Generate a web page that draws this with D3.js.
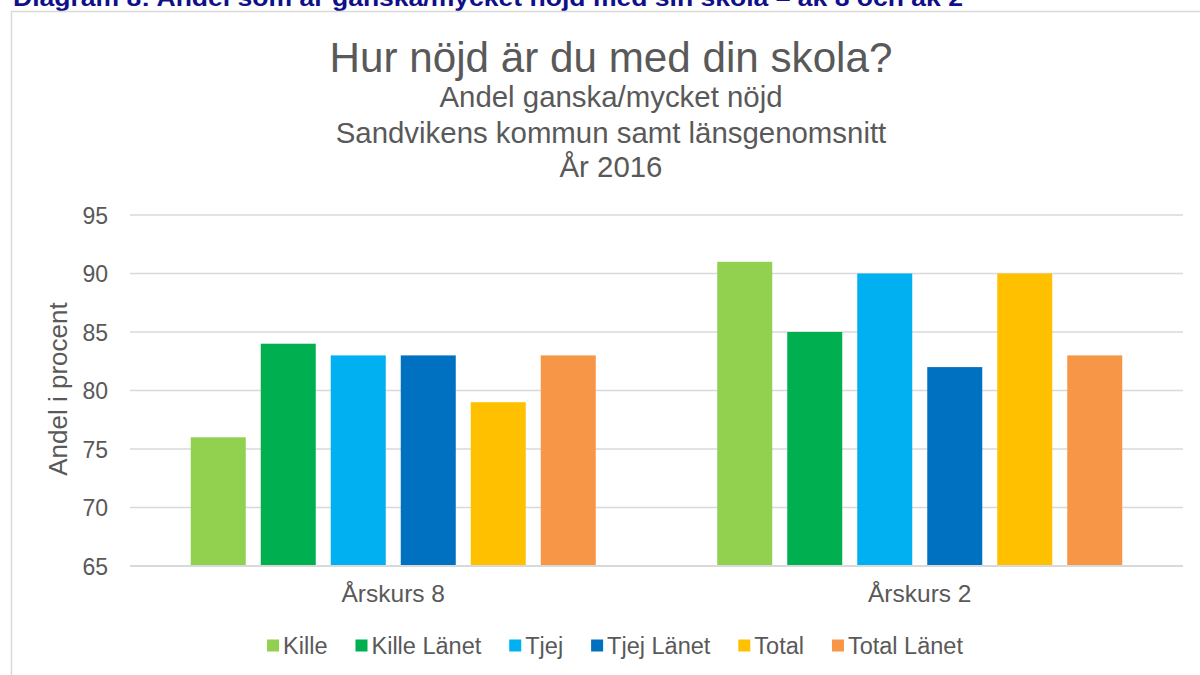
<!DOCTYPE html>
<html><head><meta charset="utf-8">
<script src="https://cdn.jsdelivr.net/npm/d3@7"></script>
<style>
html,body{margin:0;padding:0;background:#fff;}
svg{display:block;font-family:"Liberation Sans",Arial,sans-serif;}
</style></head>
<body>
<svg id="chart" width="1200" height="675"></svg>
<script>
const categories = ["Årskurs 8", "Årskurs 2"];
const seriesNames = ["Kille", "Kille Länet", "Tjej", "Tjej Länet", "Total", "Total Länet"];
const seriesColors = ["#92d050", "#00b050", "#00b0f0", "#0070c0", "#ffc000", "#f79646"];
const kille = [76, 91];
const killeLanet = [84, 85];
const tjej = [83, 90];
const tjejLanet = [83, 82];
const total = [79, 90];
const totalLanet = [83, 83];
const yTicks = [65, 70, 75, 80, 85, 90, 95];
const headerText = "Diagram 8: Andel som är ganska/mycket nöjd med sin skola – åk 8 och åk 2";
const titleLines = ["Hur nöjd är du med din skola?", "Andel ganska/mycket nöjd", "Sandvikens kommun samt länsgenomsnitt", "År 2016"];
const yAxisTitle = "Andel i procent";

const seriesValues = [kille, killeLanet, tjej, tjejLanet, total, totalLanet];
const svg = d3.select("#chart");
const textColor = "#595959";
const gridColor = "#d9d9d9";

// header (clipped at top, as in the source page)
svg.append("text").attr("x", 13).attr("y", 6)
  .attr("font-size", 24).attr("font-weight", "bold").attr("fill", "#10108a")
  .attr("textLength", 950).attr("lengthAdjust", "spacingAndGlyphs")
  .text(headerText);

// chart box
svg.append("rect").attr("x", 11.5).attr("y", 11.5).attr("width", 1300).attr("height", 800)
  .attr("fill", "#fff").attr("stroke", gridColor).attr("stroke-width", 1.5);

const cx = 611;
const titleY = [71.5, 107, 142.5, 177];
const titleSize = [42.2, 29.4, 29.4, 29.4];
titleLines.forEach((t, i) => {
  svg.append("text").attr("x", cx).attr("y", titleY[i]).attr("text-anchor", "middle")
    .attr("font-size", titleSize[i]).attr("fill", textColor).text(t);
});

const plotL = 130, plotR = 1183, plotT = 215, plotB = 566;
const y = d3.scaleLinear().domain([65, 95]).range([plotB, plotT]);
const x0 = d3.scaleBand().domain(categories).range([plotL, plotR]).padding(0);
const x1 = d3.scaleBand().domain(seriesNames).range([0, x0.bandwidth()])
  .paddingInner(0.2143).paddingOuter(0.8677);

// gridlines
svg.append("g").selectAll("line").data(yTicks).join("line")
  .attr("x1", plotL).attr("x2", plotR)
  .attr("y1", d => y(d)).attr("y2", d => y(d))
  .attr("stroke", gridColor).attr("stroke-width", 1.5);

// y axis labels
const yAxis = d3.axisLeft(y).tickValues(yTicks).tickSize(0).tickPadding(0);
const yg = svg.append("g").attr("transform", `translate(108,0)`).call(yAxis);
yg.select(".domain").remove();
yg.selectAll("text").attr("font-size", 23).attr("fill", textColor)
  .attr("font-family", "Liberation Sans, Arial, sans-serif").attr("dy", "0.35em");

// y axis title
svg.append("text").attr("transform", "translate(67,389) rotate(-90)")
  .attr("text-anchor", "middle").attr("font-size", 26).attr("fill", textColor).text(yAxisTitle);

// bars
const groups = svg.append("g").selectAll("g").data(categories).join("g")
  .attr("transform", d => `translate(${x0(d)},0)`);
groups.selectAll("rect").data((c, ci) => seriesNames.map((s, si) => ({s, si, v: seriesValues[si][ci]})))
  .join("rect")
  .attr("x", d => x1(d.s)).attr("width", x1.bandwidth())
  .attr("y", d => y(d.v)).attr("height", d => y(65) - y(d.v))
  .attr("fill", d => seriesColors[d.si]);

// bottom axis line
svg.append("line").attr("x1", plotL).attr("x2", plotR).attr("y1", plotB).attr("y2", plotB)
  .attr("stroke", gridColor).attr("stroke-width", 2);

// category labels
const xAxis = d3.axisBottom(x0).tickSize(0).tickPadding(0);
const xg = svg.append("g").attr("transform", `translate(0,${plotB})`).call(xAxis);
xg.select(".domain").remove();
xg.selectAll("text").attr("font-size", 24.5).attr("fill", textColor)
  .attr("font-family", "Liberation Sans, Arial, sans-serif").attr("dy", null).attr("y", 35.5);

// legend
const legend = svg.append("g");
const items = legend.selectAll("g").data(seriesNames).join("g");
items.append("rect").attr("width", 12).attr("height", 12).attr("y", 639.5)
  .attr("fill", (d, i) => seriesColors[i]);
items.append("text").attr("x", 16).attr("y", 653.5).attr("font-size", 23.5)
  .attr("fill", textColor).text(d => d);
let widths = [];
items.each(function() { widths.push(16 + d3.select(this).select("text").node().getComputedTextLength()); });
const gap = 28;
const totalW = d3.sum(widths) + gap * (widths.length - 1);
let xpos = cx + 4 - totalW / 2;
items.each(function(d, i) {
  d3.select(this).attr("transform", `translate(${xpos},0)`);
  xpos += widths[i] + gap;
});
</script>
</body></html>
